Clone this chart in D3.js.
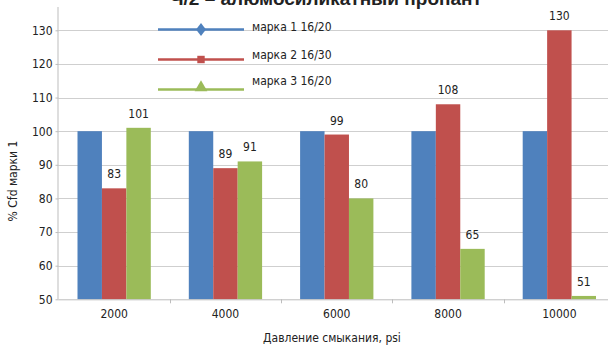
<!DOCTYPE html>
<html>
<head>
<meta charset="utf-8">
<script src="https://cdn.jsdelivr.net/npm/d3@7"></script>
<style>
  html, body { margin: 0; padding: 0; background: #fff; }
  svg { display: block; }
  .lbl { font-family: "DejaVu Sans Condensed", "DejaVu Sans", sans-serif; font-stretch: condensed; fill: #222; }
</style>
</head>
<body>
<svg id="chart" width="608" height="347"></svg>
<script>
// Closure pressure categories and relative conductivity per proppant grade
const categories = ["2000", "4000", "6000", "8000", "10000"];
const seriesNames = ["марка 1 16/20", "марка 2 16/30", "марка 3 16/20"];
const grade1 = [100, 100, 100, 100, 100];
const grade2 = [83, 89, 99, 108, 130];
const grade3 = [101, 91, 80, 65, 51];
const yTicks = [50, 60, 70, 80, 90, 100, 110, 120, 130];
const colors = ["#4F81BD", "#C0504D", "#9BBB59"];
const showLabels = [false, true, true];
const titleText = "Ч/2 – алюмосиликатный пропант";
const xTitle = "Давление смыкания, psi";
const yTitle = "% Cfd марки 1";

const series = [grade1, grade2, grade3];
const FS = 12;

const svg = d3.select("#chart");
const left = 58.5, bottom = 299.3, step = 111.3;
const right = left + step * categories.length;

const x = d3.scaleBand().domain(categories).range([left, right]).paddingInner(0).paddingOuter(0);
const inner = d3.scaleBand().domain(d3.range(series.length)).range([19, step - 19]);
const y = d3.scaleLinear().domain([50, 130]).range([bottom, 30.3]);

// gridlines
svg.append("g").selectAll("line").data(yTicks.filter(t => t > 50)).join("line")
  .attr("x1", left).attr("x2", 608)
  .attr("y1", d => Math.round(y(d)) + 0.5).attr("y2", d => Math.round(y(d)) + 0.5)
  .attr("stroke", "#cfcfcf").attr("stroke-width", 1);

// bars
series.forEach((vals, s) => {
  svg.append("g").selectAll("rect").data(vals).join("rect")
    .attr("x", (d, i) => x(categories[i]) + inner(s))
    .attr("width", inner.bandwidth())
    .attr("y", d => y(d))
    .attr("height", d => bottom - y(d))
    .attr("fill", colors[s]);
  if (showLabels[s]) {
    svg.append("g").selectAll("text").data(vals).join("text")
      .attr("class", "lbl")
      .attr("x", (d, i) => x(categories[i]) + inner(s) + inner.bandwidth() / 2)
      .attr("y", d => y(d) - 10)
      .attr("text-anchor", "middle")
      .attr("font-size", FS)
      .text(d => d);
  }
});

// y axis
const yAxis = svg.append("g").attr("transform", `translate(${left},0)`)
  .call(d3.axisLeft(y).tickValues(yTicks).tickSize(3).tickPadding(3));
yAxis.select(".domain").attr("stroke", "#bdbdbd").attr("d", `M-0.5,${bottom}V7`);
yAxis.selectAll(".tick line").attr("stroke", "#bdbdbd");
yAxis.selectAll(".tick text").attr("class", "lbl").attr("font-size", FS).attr("fill", "#222");

// x axis
const xAxis = svg.append("g").attr("transform", `translate(0,${bottom})`)
  .call(d3.axisBottom(x).tickSize(0).tickPadding(10));
xAxis.select(".domain").attr("stroke", "#bdbdbd").attr("d", `M${left},0.5H608`);
xAxis.selectAll(".tick text").attr("class", "lbl").attr("font-size", FS).attr("fill", "#222");
// category separators
svg.append("g").selectAll("line").data(categories.slice(1)).join("line")
  .attr("x1", d => Math.round(x(d)) + 0.5).attr("x2", d => Math.round(x(d)) + 0.5)
  .attr("y1", bottom).attr("y2", bottom + 4)
  .attr("stroke", "#bdbdbd");

// axis titles
svg.append("text").attr("class", "lbl").attr("x", 332).attr("y", 342)
  .attr("text-anchor", "middle").attr("font-size", FS).text(xTitle);
svg.append("text").attr("class", "lbl")
  .attr("transform", "translate(17,181) rotate(-90)")
  .attr("text-anchor", "middle").attr("font-size", FS).text(yTitle);

// title, running off the top edge
svg.append("text").attr("x", 326).attr("y", 5)
  .attr("text-anchor", "middle")
  .attr("font-family", "Liberation Sans, Arial, sans-serif")
  .attr("font-weight", "bold").attr("font-size", 19).attr("fill", "#222")
  .text(titleText);

// legend
const legY = [29.5, 59.5, 89.5];
const textDy = [1, -0.5, -5];
const lg = svg.append("g");
seriesNames.forEach((name, i) => {
  const g = lg.append("g").attr("transform", `translate(0,${legY[i]})`);
  g.append("line").attr("x1", 158).attr("x2", 244).attr("y1", 0).attr("y2", 0)
    .attr("stroke", colors[i]).attr("stroke-width", 2.5);
  const sym = [d3.symbolDiamond, d3.symbolSquare, d3.symbolTriangle][i];
  const size = [50, 55, 70][i];
  g.append("path").attr("d", d3.symbol(sym, size)())
    .attr("transform", `translate(201,${i === 2 ? -2 : 0})${i === 0 ? " scale(1.3,1)" : ""}`)
    .attr("fill", colors[i]);
  g.append("text").attr("class", "lbl").attr("x", 252).attr("y", textDy[i])
    .attr("font-size", FS).text(name);
});
</script>
</body>
</html>
